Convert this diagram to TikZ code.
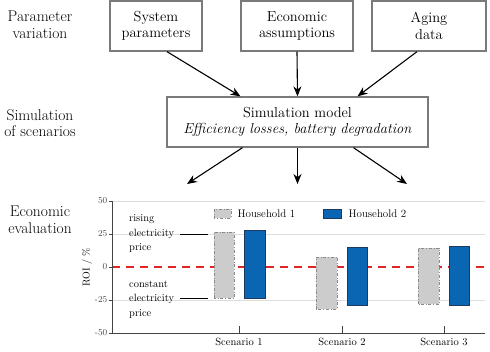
\documentclass[tikz,border=0pt]{standalone}
\usetikzlibrary{arrows.meta,calc}
\definecolor{boxgray}{HTML}{7A7A7A}
\definecolor{gridgray}{HTML}{DDDDDD}
\definecolor{axisgray}{HTML}{444444}
\definecolor{hhone}{HTML}{CCCCCC}
\definecolor{hhoneline}{HTML}{8A8A8A}
\definecolor{hhtwo}{HTML}{0A66B2}
\definecolor{hhtwoline}{HTML}{1C3A5E}
\definecolor{zerored}{HTML}{E02525}
\tikzset{
  topbox/.style={draw=boxgray, line width=1.3pt, minimum height=50pt, align=center, inner sep=0pt,
    font=\fontsize{14.5}{16.5}\selectfont},
  sidelabel/.style={align=center, font=\fontsize{15.5}{16.5}\selectfont},
  arr/.style={-{Stealth[length=10pt,width=8pt]}, line width=1.1pt, black},
  barone/.style={fill=hhone, draw=hhoneline, dash dot, line width=0.8pt},
  bartwo/.style={fill=hhtwo, draw=hhtwoline, line width=1pt},
  ticklab/.style={font=\fontsize{9}{10}\selectfont, text=axisgray},
  chartlab/.style={font=\fontsize{11}{12}\selectfont},
  annot/.style={align=left, font=\fontsize{10.5}{14.5}\selectfont, inner sep=1pt}
}
\begin{document}
\begin{tikzpicture}[x=1pt,y=-1pt]
\useasboundingbox (0,0) rectangle (490,351);
% left labels
\node[sidelabel] (l1) at (40,25) {Parameter\\variation};
\node[sidelabel] (l2) at (40,123) {Simulation\\of scenarios};
\node[sidelabel] (l3) at (40,220) {Economic\\evaluation};
% top boxes
\node[topbox, minimum width=92pt] (b1) at (156,26) {System\\parameters};
\node[topbox, minimum width=112pt] (b2) at (297,26) {Economic\\assumptions};
\node[topbox, minimum width=114pt] (b3) at (429,26) {Aging\\data};
\node[topbox, minimum width=261pt] (sim) at (297.5,122) {Simulation model\\\textit{Efficiency losses, battery degradation}};
% arrows
\draw[arr] ($(b1.south)+(11,0)$) -- ($(sim.north)+(-57,0)$);
\draw[arr] (b2.south) -- (sim.north);
\draw[arr] ($(b3.south)+(-12,0)$) -- ($(sim.north)+(60,0)$);
\coordinate (e1) at (187,184);
\coordinate (e2) at (297.5,184);
\coordinate (e3) at (407,184);
\draw[arr] ($(sim.south)+(-55,0)$) -- (e1);
\draw[arr] (sim.south) -- (e2);
\draw[arr] ($(sim.south)+(56,0)$) -- (e3);
% chart
\begin{scope}[shift={(0,267)}, x=1pt, y=1.32pt]
  \foreach \v in {50,25,-25} \draw[gridgray, line width=0.8pt] (112,\v) -- (485,\v);
  \draw[zerored, line width=1.4pt, dash pattern=on 8pt off 6pt] (112,0) -- (485,0);
  % axes
  \draw[axisgray, line width=0.9pt] (112,50) -- (112,-50) -- (485,-50);
  \foreach \v in {50,25,0,-25,-50} {
    \draw[axisgray, line width=0.6pt] (109,\v) -- (112,\v);
    \node[ticklab, anchor=east, inner sep=1pt] at (108.5,\v) {\v};
  }
  \node[rotate=90, font=\fontsize{10}{11}\selectfont] (ylab) at (87,0) {ROI / \%};
  % x ticks
  \foreach \x/\n in {239/1,342/2,444/3} {
    \draw[axisgray, line width=0.8pt] (\x,-50) -- (\x,-45);
    \node[anchor=north, font=\fontsize{10.5}{11}\selectfont] (s\n) at (\x,-51.5) {Scenario \n};
  }
  % bars
  \draw[barone] (214,-23.5) rectangle (234,26.5);
  \draw[bartwo] (244,-24.2) rectangle (265,28);
  \draw[barone] (316,-31.8) rectangle (337,7.6);
  \draw[bartwo] (347,-28.8) rectangle (367,14.4);
  \draw[barone] (418,-28) rectangle (439,14.4);
  \draw[bartwo] (449,-29.5) rectangle (469,15.2);
  % annotations
  \node[annot, anchor=west] (rise) at (128,25) {rising\\electricity\\price};
  \node[annot, anchor=west] (const) at (128,-24.5) {constant\\electricity\\price};
  \draw[black, line width=0.8pt] (180,25) -- (208,25);
  \draw[black, line width=0.8pt] (180,-23.5) -- (208,-23.5);
\end{scope}
% legend (pixel coords)
\draw[barone] (214,209) rectangle (231,218);
\node[chartlab, anchor=west] (leg1) at (234,213.5) {Household 1};
\draw[bartwo] (323,209) rectangle (341,218);
\node[chartlab, anchor=west] (leg2) at (345,213.5) {Household 2};
\end{tikzpicture}
\end{document}
